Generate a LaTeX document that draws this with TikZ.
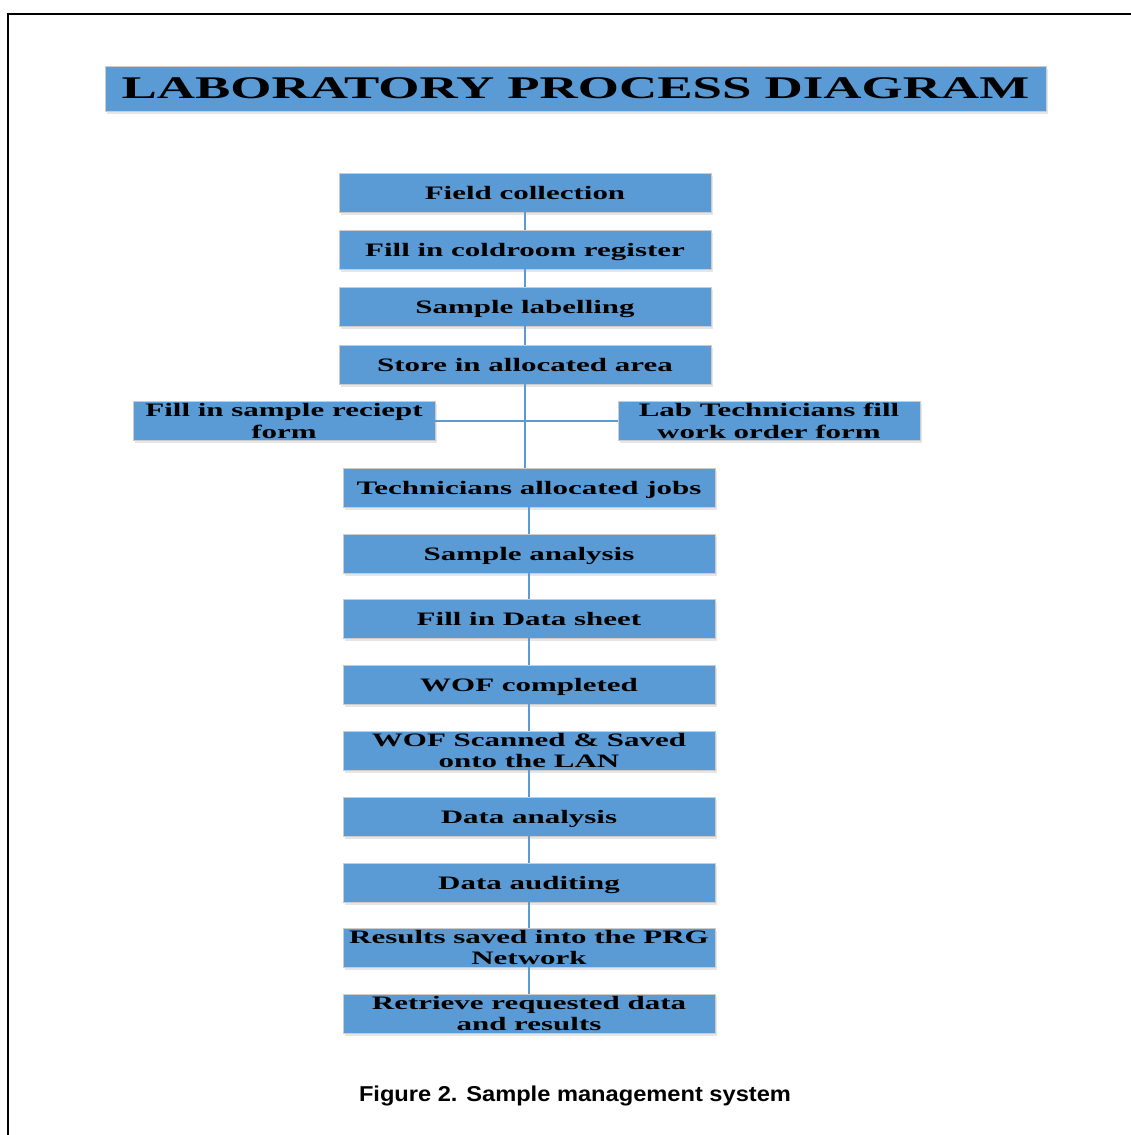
\documentclass[tikz,border=0pt]{standalone}
\usepackage{fontspec}
\setmainfont{Liberation Serif}
\newfontfamily\widefont{Liberation Serif}[FakeStretch=1.63]
\newfontfamily\titlefont{Liberation Serif}[FakeStretch=1.68]
\newfontfamily\capfont{Liberation Sans}[FakeStretch=1.1]
\usetikzlibrary{shadows}
\definecolor{boxblue}{RGB}{91,155,213}
\definecolor{linkblue}{RGB}{91,155,213}
\tikzset{
    frame/.style={black,line width=1.6pt},
    procbox/.style={draw=black!20,line width=0.8pt,fill=boxblue,inner sep=0pt,minimum height=39pt,align=center,
        text depth=0pt,font=\widefont\bfseries\fontsize{19}{21.5}\selectfont,
        drop shadow={shadow xshift=1.5pt,shadow yshift=-2.5pt,opacity=0.2}},
    mainbox/.style={procbox,minimum width=372pt},
    sidebox/.style={procbox,minimum width=302pt},
    titlebox/.style={procbox,minimum width=941pt,minimum height=45pt,font=\titlefont\bfseries\fontsize{31.5}{36}\selectfont},
    link/.style={linkblue,line width=2pt}
}
\begin{document}
\begin{tikzpicture}[x=1pt,y=-1pt]
\useasboundingbox (0,0) rectangle (1131,1135);
\draw[frame](1131,14)--(8,14)--(8,1135);
\node[titlebox](title) at (575.5,88.5){LABORATORY PROCESS DIAGRAM};

\node[mainbox](s1) at (525,192.5){Field collection};
\node[mainbox](s2) at (525,249.5){Fill in coldroom register};
\node[mainbox](s3) at (525,306.5){Sample labelling};
\node[mainbox](s4) at (525,364.5){Store in allocated area};
\node[sidebox](receipt) at (284,421){Fill in sample reciept\\form};
\node[sidebox](workorder) at (769,421){Lab Technicians fill\\work order form};
\node[mainbox](s5) at (529,487.5){Technicians allocated jobs};
\node[mainbox](s6) at (529,553.5){Sample analysis};
\node[mainbox](s7) at (529,618.5){Fill in Data sheet};
\node[mainbox](s8) at (529,684.5){WOF completed};
\node[mainbox](s9) at (529,750.5){WOF Scanned \& Saved\\onto the LAN};
\node[mainbox](s10) at (529,816.5){Data analysis};
\node[mainbox](s11) at (529,882.5){Data auditing};
\node[mainbox](s12) at (529,947.5){Results saved into the PRG\\Network};
\node[mainbox](s13) at (529,1013.5){Retrieve requested data\\and results};

\foreach \a/\b in {s1/s2,s2/s3,s3/s4,s5/s6,s6/s7,s7/s8,s8/s9,s9/s10,s10/s11,s11/s12,s12/s13}
	\draw[link](\a.south)--(\b.north);
\draw[link](s4.south)--(s4.south |- s5.north);
\draw[link](receipt.east)--(workorder.west);

\node[anchor=base,font=\capfont\bfseries\fontsize{21.5}{25}\selectfont](caption) at (575,1101.5){Figure 2. Sample management system};
\end{tikzpicture}
\end{document}
